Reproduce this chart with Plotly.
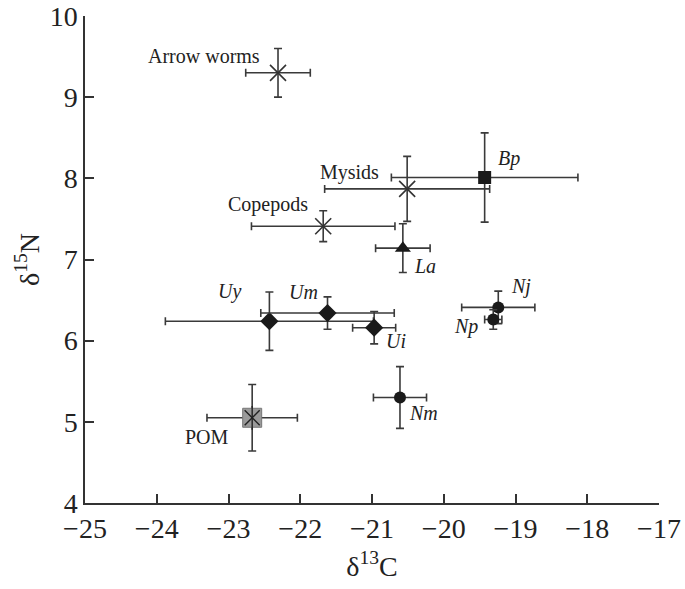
import plotly.graph_objects as go

names = ["Arrow worms", "Mysids", "Copepods", "POM", "Bp", "La",
         "Uy", "Um", "Ui", "Nj", "Np", "Nm"]
d13C = [-22.31, -20.51, -21.68, -22.67, -19.43, -20.57,
        -22.43, -21.62, -20.97, -19.24, -19.31, -20.61]
d15N = [9.30, 7.87, 7.41, 5.05, 8.01, 7.14,
        6.24, 6.34, 6.16, 6.41, 6.26, 5.30]
sdC = [0.45, 1.15, 1.00, 0.63, 1.30, 0.38,
       1.45, 0.93, 0.30, 0.51, 0.12, 0.37]
sdN = [0.30, 0.40, 0.19, 0.41, 0.55, 0.30,
       0.36, 0.20, 0.20, 0.20, 0.12, 0.38]

x_ticks = [-25, -24, -23, -22, -21, -20, -19, -18, -17]
x_tick_labels = ["\u221225", "\u221224", "\u221223", "\u221222", "\u221221",
                 "\u221220", "\u221219", "\u221218", "\u221217"]
y_ticks = [4, 5, 6, 7, 8, 9, 10]

# label placement: (x, y, anchor, italic)
label_pos = {
    "Arrow worms": (-22.54, 9.51, "right", False),
    "Mysids": (-20.88, 8.07, "right", False),
    "Copepods": (-21.86, 7.68, "right", False),
    "POM": (-22.96, 4.81, "right", False),
    "Bp": (-19.27, 8.25, "left", True),
    "La": (-20.44, 6.92, "left", True),
    "Uy": (-23.18, 6.60, "left", True),
    "Um": (-22.18, 6.60, "left", True),
    "Ui": (-20.83, 6.00, "left", True),
    "Nj": (-19.09, 6.67, "left", True),
    "Np": (-19.50, 6.18, "right", True),
    "Nm": (-20.51, 5.11, "left", True),
}

styles = {
    "Arrow worms": dict(symbol="x-thin-open", size=16, color="#333333"),
    "Mysids": dict(symbol="x-thin-open", size=16, color="#333333"),
    "Copepods": dict(symbol="x-thin-open", size=16, color="#333333"),
    "POM": dict(symbol="square", size=19, color="#9a9a9a"),
    "Bp": dict(symbol="square", size=13, color="#1a1a1a"),
    "La": dict(symbol="triangle-up", size=14, color="#1a1a1a"),
    "Uy": dict(symbol="diamond", size=14, color="#1a1a1a"),
    "Um": dict(symbol="diamond", size=14, color="#1a1a1a"),
    "Ui": dict(symbol="diamond", size=14, color="#1a1a1a"),
    "Nj": dict(symbol="circle", size=12, color="#1a1a1a"),
    "Np": dict(symbol="circle", size=12, color="#1a1a1a"),
    "Nm": dict(symbol="circle", size=12, color="#1a1a1a"),
}

SERIF = "Liberation Serif, Times New Roman, serif"

fig = go.Figure()
ecol = "#3a3a3a"
for i, n in enumerate(names):
    st = styles[n]
    is_open = "open" in st["symbol"]
    line_w = 1.6 if is_open else (1 if n == "POM" else 0)
    line_c = st["color"] if is_open else "#777777"
    fig.add_trace(go.Scatter(
        x=[d13C[i]], y=[d15N[i]], mode="markers", showlegend=False, name=n,
        marker=dict(symbol=st["symbol"], size=st["size"], color=st["color"],
                    line=dict(width=line_w, color=line_c)),
        error_x=dict(type="data", array=[sdC[i]], color=ecol, thickness=1.6, width=4),
        error_y=dict(type="data", array=[sdN[i]], color=ecol, thickness=1.6, width=4),
    ))
    if n == "POM":
        fig.add_trace(go.Scatter(
            x=[d13C[i]], y=[d15N[i]], mode="markers", showlegend=False,
            marker=dict(symbol="x-thin-open", size=15, color="#222222",
                        line=dict(width=1.4, color="#222222"))))
        fig.add_trace(go.Scatter(
            x=[d13C[i]], y=[d15N[i]], mode="markers", showlegend=False,
            marker=dict(symbol="line-ns-open", size=17, color="#222222",
                        line=dict(width=1.4, color="#222222"))))

for n in names:
    lx, ly, anc, it = label_pos[n]
    txt = f"<i>{n}</i>" if it else n
    fig.add_annotation(x=lx, y=ly, text=txt, showarrow=False, xanchor=anc,
                       yanchor="middle",
                       font=dict(family=SERIF, size=20, color="#222222"))

fig.update_layout(
    width=685, height=589,
    margin=dict(l=85, r=26, t=16, b=86),
    paper_bgcolor="white", plot_bgcolor="white",
    font=dict(family=SERIF, color="#222222"),
)
fig.update_xaxes(
    range=[-25, -17], tickvals=x_ticks, ticktext=x_tick_labels,
    ticks="inside", ticklen=9, tickwidth=1.5, tickcolor="#333333",
    showline=True, linecolor="#333333", linewidth=1.5, showgrid=False,
    zeroline=False, automargin=False, ticklabeloverflow="allow",
    tickfont=dict(size=28, family=SERIF, color="#222222"),
    title=dict(text="\u03b4<sup>13</sup>C", font=dict(size=28, family=SERIF), standoff=13),
)
fig.update_yaxes(
    range=[4, 10], tickvals=y_ticks,
    ticks="inside", ticklen=9, tickwidth=1.5, tickcolor="#333333",
    showline=True, linecolor="#333333", linewidth=1.5, showgrid=False,
    zeroline=False, automargin=False, ticklabeloverflow="allow",
    tickfont=dict(size=28, family=SERIF, color="#222222"),
    title=dict(text="\u03b4<sup>15</sup>N", font=dict(size=28, family=SERIF), standoff=2),
)

fig.write_html("out.html", config={"displayModeBar": False},
               post_script="document.body.style.margin='0';document.body.style.overflow='hidden';")
